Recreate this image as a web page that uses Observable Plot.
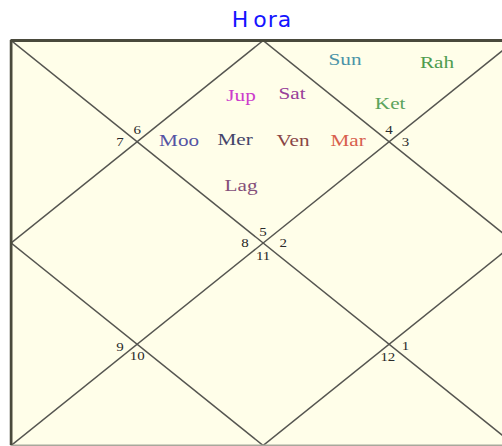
<!DOCTYPE html>
<html>
<head>
<meta charset="utf-8">
<script src="https://cdn.jsdelivr.net/npm/d3@7"></script>
<script src="https://cdn.jsdelivr.net/npm/@observablehq/plot@0.6"></script>
<style>
  html, body { margin: 0; padding: 0; background: #ffffff; overflow: hidden; width: 502px; height: 446px; }
  #title { position: absolute; left: 10px; top: 5px; width: 504px; text-align: center;
           font-family: "DejaVu Sans", sans-serif; font-size: 22px; line-height: 30px;
           color: #1414ff; letter-spacing: 1px; }
  #title .h { margin-right: 4px; }
  #chart { position: absolute; left: 0; top: 0; width: 502px; height: 446px; overflow: hidden; }
</style>
</head>
<body>
<div id="title"><span class="h">H</span>ora</div>
<div id="chart"></div>
<script>
// ---- data ----
const chartTitle = "Hora";
const houses = [1,2,3,4,5,6,7,8,9,10,11,12];
const houseSigns = [5,6,7,8,9,10,11,12,1,2,3,4];
const planets = ["Jup","Sat","Moo","Mer","Ven","Mar","Lag","Sun","Rah","Ket"];
const planetHouse = [1,1,1,1,1,1,1,12,12,12];

// ---- styles ----
const planetColors = ["#cc3ccc","#98409a","#5454a4","#45456a","#8a4646","#d8604e","#84507a","#4c94a8","#4e9c4e","#5ca45c"];

// ---- layout (chart units, 4x4 square) ----
const chartLines = [
  [0,0,4,4],[0,4,4,0],
  [2,0,4,2],[4,2,2,4],[2,4,0,2],[0,2,2,0]
];
const signSlots = [[2,1.89],[1.0,0.89],[0.865,1.0],[1.857,2.0],[0.865,3.03],[1.0,3.12],
                   [2.0,2.13],[2.99,3.13],[3.13,3.02],[2.16,2.0],[3.13,1.0],[3.0,0.89]];
const planetSlots = [[1.825,0.545],[2.23,0.525],[1.333,0.99],[1.778,0.98],[2.238,0.99],
                     [2.675,0.99],[1.825,1.43],[2.65,0.185],[3.38,0.215],[3.008,0.62]];

const signData = houses.map((h,i)=>({house:h, sign:houseSigns[i], x:signSlots[i][0], y:signSlots[i][1]}));
const planetData = planets.map((p,i)=>({name:p, house:planetHouse[i], color:planetColors[i], x:planetSlots[i][0], y:planetSlots[i][1]}));
const lineData = chartLines.map(([x1,y1,x2,y2])=>({x1,y1,x2,y2}));

const W = 408, H = 409, M = 2;
const svg = Plot.plot({
  width: W, height: H,
  marginTop: M, marginBottom: M, marginLeft: M, marginRight: M,
  x: {domain:[0,4], axis:null},
  y: {domain:[0,4], reverse:true, axis:null},
  style: {background:"transparent"},
  marks: [
    Plot.frame({fill:"#fffee9", stroke:"none"}),
    Plot.link(lineData, {x1:"x1", y1:"y1", x2:"x2", y2:"y2", stroke:"#555550", strokeWidth:1.3}),
    Plot.text(signData, {x:"x", y:"y", text:d=>String(d.sign), fill:"#2a2a2a",
      fontFamily:"Liberation Serif, serif", fontSize:12, textAnchor:"middle", lineAnchor:"middle"}),
    Plot.text(planetData, {x:"x", y:"y", text:"name", fill:d=>d.color,
      fontFamily:"Liberation Serif, serif", fontSize:17, textAnchor:"middle", lineAnchor:"middle"}),
    Plot.ruleY([4], {stroke:"#a8a89c", strokeWidth:2}),
    Plot.ruleY([0], {stroke:"#4a4a3c", strokeWidth:2.8}),
    Plot.ruleX([0], {stroke:"#4a4a3c", strokeWidth:2.2})
  ]
});
// the original chart is a square stretched horizontally
const sx = 504/404;
svg.setAttribute("preserveAspectRatio","none");
svg.style.position = "absolute";
svg.style.maxWidth = "none";
svg.style.width = (W*sx) + "px";
svg.style.height = H + "px";
svg.style.left = (10 - M*sx) + "px";
svg.style.top = (40 - M) + "px";
document.getElementById("chart").appendChild(svg);
</script>
</body>
</html>
